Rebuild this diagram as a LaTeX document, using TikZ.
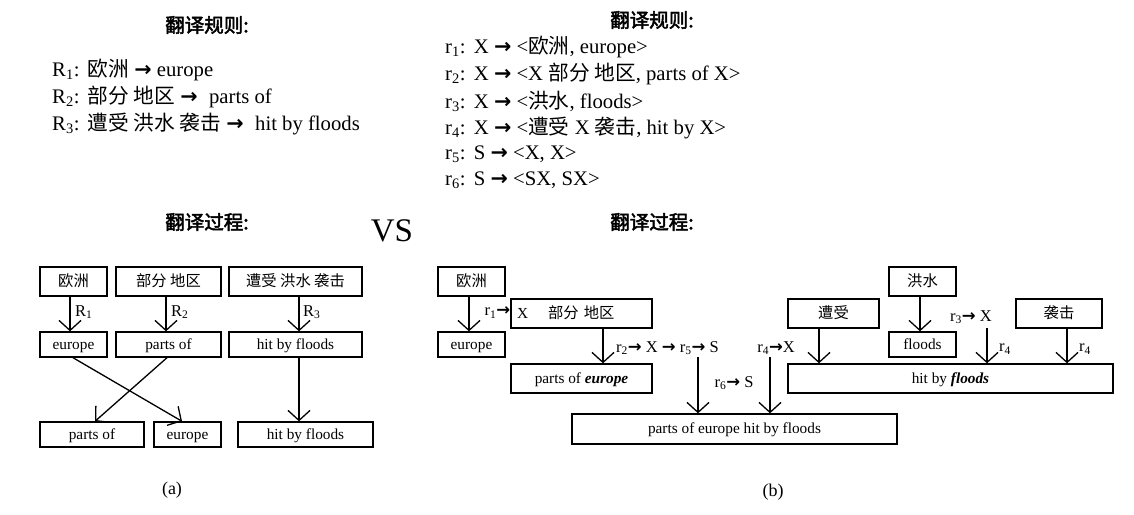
\documentclass[tikz,border=0pt]{standalone}
\usepackage{fontspec}
\setmainfont{Liberation Serif}
\newfontfamily\cjk[AutoFakeBold=2.5]{Noto Sans CJK SC}
\newfontfamily\arrfont[Scale=1.0]{DejaVu Sans}
\usetikzlibrary{arrows.meta,calc}
\newcommand\zh[1]{{\cjk #1}}
\newcommand\ar{{\arrfont\bfseries →}}
\newcommand\sub[1]{\textsubscript{#1}}
\begin{document}
\begin{tikzpicture}[x=1pt,y=-1pt,
  box/.style={draw,line width=1.4pt,inner sep=0pt,text height=11pt,text depth=2pt,font=\fontsize{15.3}{17}\selectfont},
  arr/.style={line width=1.3pt,-{Straight Barb[length=10pt,width=22pt]}},
  rule/.style={anchor=west,inner sep=0pt,font=\fontsize{20.7}{23}\selectfont},
  ttl/.style={inner sep=0pt,font=\fontsize{19.5}{22}\selectfont\bfseries},
  lab/.style={inner sep=0pt,font=\fontsize{16.5}{18}\selectfont}]
\useasboundingbox (0,0) rectangle (1134,514);

% ---- titles ----
\node[ttl] (t1) at (207,25) {\zh{翻译规则:}};
\node[ttl] (t2) at (652,20) {\zh{翻译规则:}};
\node[ttl] (t3) at (207,222) {\zh{翻译过程:}};
\node[ttl] (t4) at (652,222) {\zh{翻译过程:}};
\node[inner sep=0pt,font=\fontsize{33}{36}\selectfont] (vs) at (392,231) {VS};

% ---- left rules ----
\node[rule] (R1) at (52,70) {R\sub{1}:\hspace{0.4em}\zh{欧洲} \ar{} europe};
\node[rule] (R2) at (52,97) {R\sub{2}:\hspace{0.4em}\zh{部分 地区} \ar{}\hspace{0.3em} parts of};
\node[rule] (R3) at (52,124) {R\sub{3}:\hspace{0.4em}\zh{遭受 洪水 袭击} \ar{}\hspace{0.3em} hit by floods};

% ---- right rules ----
\node[rule] (r1) at (445,47) {r\sub{1}:\hspace{0.4em}X \ar{} <\zh{欧洲}, europe>};
\node[rule] (r2) at (445,74) {r\sub{2}:\hspace{0.4em}X \ar{} <X \zh{部分 地区}, parts of X>};
\node[rule] (r3) at (445,101) {r\sub{3}:\hspace{0.4em}X \ar{} <\zh{洪水}, floods>};
\node[rule] (r4) at (445,128) {r\sub{4}:\hspace{0.4em}X \ar{} <\zh{遭受} X \zh{袭击}, hit by X>};
\node[rule] (r5) at (445,154) {r\sub{5}:\hspace{0.4em}S \ar{} <X, X>};
\node[rule] (r6) at (445,180) {r\sub{6}:\hspace{0.4em}S \ar{} <SX, SX>};

% ---- diagram (a) ----
\node[box,minimum width=67pt,minimum height=29pt] (a1) at (73.5,281.5) {\zh{欧洲}};
\node[box,minimum width=105pt,minimum height=29pt] (a2) at (168.5,281.5) {\zh{部分 地区}};
\node[box,minimum width=133pt,minimum height=29pt] (a3) at (295.5,281.5) {\zh{遭受 洪水 袭击}};
\node[box,minimum width=67pt,minimum height=25pt] (b1) at (73.5,344.5) {europe};
\node[box,minimum width=105pt,minimum height=25pt] (b2) at (168.5,344.5) {parts of};
\node[box,minimum width=133pt,minimum height=25pt] (b3) at (295.5,344.5) {hit by floods};
\node[box,minimum width=104pt,minimum height=25pt] (c1) at (92,434.5) {parts of};
\node[box,minimum width=67pt,minimum height=25pt] (c2) at (187.5,434.5) {europe};
\node[box,minimum width=135pt,minimum height=25pt] (c3) at (305.5,434.5) {hit by floods};

\draw[arr] ([xshift=-3.5pt]a1.south) -- ([xshift=-3.5pt]b1.north);
\draw[arr] ([xshift=-2.5pt]a2.south) -- ([xshift=-2.5pt]b2.north);
\draw[arr] ([xshift=3.5pt]a3.south) -- ([xshift=3.5pt]b3.north);
\draw[arr] ([xshift=-0.5pt]b1.south) -- ([xshift=-5.5pt]c2.north);
\draw[arr] ([xshift=-1.5pt]b2.south) -- ([xshift=3pt]c1.north);
\draw[arr] ([xshift=3.5pt]b3.south) -- ([xshift=-6.5pt]c3.north);
\node[lab,anchor=west] (la1) at (75,312) {R\sub{1}};
\node[lab,anchor=west] (la2) at (171,312) {R\sub{2}};
\node[lab,anchor=west] (la3) at (303,312) {R\sub{3}};
\node[inner sep=0pt,font=\fontsize{18}{20}\selectfont] (capa) at (172,490) {(a)};

% ---- diagram (b) ----
\node[box,minimum width=67pt,minimum height=29pt] (d1) at (471.5,281.5) {\zh{欧洲}};
\node[box,minimum width=67pt,minimum height=25pt] (d2) at (471.5,344.5) {europe};
\node[box,minimum height=29pt,text width=129pt,inner xsep=6pt,align=left] (d3) at (581.5,313.5) {X\hspace{20pt}\zh{部分 地区}};
\node[box,minimum width=141pt,minimum height=29pt] (d4) at (581.5,378.5) {parts of \textbf{\textit{europe}}};
\node[box,minimum width=325pt,minimum height=30pt] (d5) at (734.5,429) {parts of europe hit by floods};

\draw[arr] ([xshift=-2.5pt]d1.south) -- ([xshift=-2.5pt]d2.north);
\draw[arr] ([xshift=21.5pt]d3.south) -- ([xshift=21.5pt]d4.north);
\node[lab,anchor=east] (lr1) at ([yshift=1pt]d3.west) {r\sub{1}\ar};
\node[lab,anchor=west] (lr2) at (616,348) {r\sub{2}\ar{} X \ar{} r\sub{5}\ar{} S};
\node[lab] (lr6) at (734,383) {r\sub{6}\ar{} S};
\node[lab] (lr4) at (776,348) {r\sub{4}\ar X};
\coordinate (s1) at (698,357);
\coordinate (s2) at (770,357);
\draw[arr] (s1) -- (s1 |- d5.north);
\draw[arr] (s2) -- (s2 |- d5.north);

\node[box,minimum width=91pt,minimum height=29pt] (e1) at (833.5,313.5) {\zh{遭受}};
\node[box,minimum width=67pt,minimum height=29pt] (e2) at (922.5,281.5) {\zh{洪水}};
\node[box,minimum width=67pt,minimum height=25pt] (e3) at (922.5,344.5) {floods};
\node[box,minimum width=86pt,minimum height=29pt] (e4) at (1059,313.5) {\zh{袭击}};
\node[box,minimum width=325pt,minimum height=29pt] (e5) at (950.5,378.5) {hit by \textbf{\textit{floods}}};

\draw[arr] ([xshift=-14.5pt]e1.south) -- ([xshift=-131.5pt]e5.north);
\draw[arr] ([xshift=-2.5pt]e2.south) -- ([xshift=-2.5pt]e3.north);
\draw[arr] ([xshift=8pt]e4.south) -- ([xshift=116.5pt]e5.north);
\node[lab] (lr3) at (971,317) {r\sub{3}\ar{} X};
\coordinate (s3) at (987,328);
\draw[arr] (s3) -- (s3 |- e5.north);
\node[lab] (lr4a) at (1005,349) {r\sub{4}};
\node[lab] (lr4b) at (1085,349) {r\sub{4}};
\node[inner sep=0pt,font=\fontsize{18}{20}\selectfont] (capb) at (773,492) {(b)};
\end{tikzpicture}
\end{document}
